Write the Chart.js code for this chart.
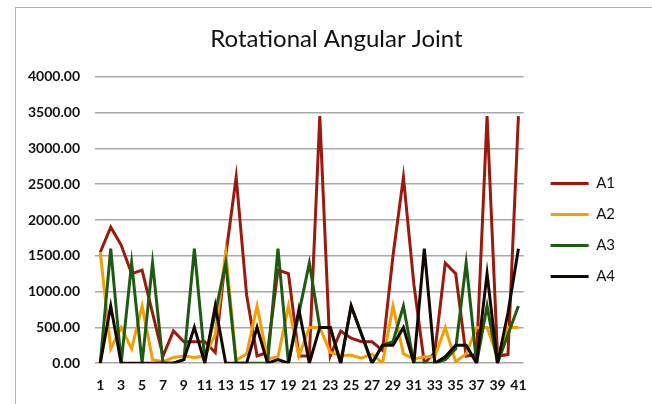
<!DOCTYPE html>
<html><head><meta charset="utf-8">
<script src="https://cdn.jsdelivr.net/npm/chart.js@4/dist/chart.umd.min.js"></script>
<style>
html,body{margin:0;padding:0;background:#fff;overflow:hidden;}
#wrap{position:relative;width:652px;height:404px;overflow:hidden;}
#frame{position:absolute;left:15px;top:7px;width:700px;height:500px;border:1px solid #b4b4b4;box-sizing:border-box;}
canvas{position:absolute;left:0;top:0;}
</style></head><body>
<div id="wrap"><div id="frame"></div><canvas id="c" width="652" height="404"></canvas></div>
<script>
const categories = ['1','2','3','4','5','6','7','8','9','10','11','12','13','14','15','16','17','18','19','20','21','22','23','24','25','26','27','28','29','30','31','32','33','34','35','36','37','38','39','40','41'];
const seriesNames = ['A1','A2','A3','A4'];
const a1 = [1550,1900,1650,1250,1300,700,100,450,300,300,300,150,1500,2600,950,100,150,1300,1250,100,100,3450,100,450,350,300,300,180,1500,2600,1100,0,150,1400,1250,100,120,3450,100,120,3450];
const a2 = [1550,200,500,200,800,50,20,80,100,80,100,400,1550,40,130,800,60,90,800,100,500,500,150,110,110,70,130,0,800,130,60,90,90,500,20,130,500,500,90,500,500];
const a3 = [0,1600,0,1400,0,1400,0,0,50,1600,50,700,1400,0,0,0,0,1600,0,700,1400,500,500,0,800,400,0,250,300,800,0,0,0,50,200,1400,0,800,0,400,800];
const a4 = [0,800,0,0,0,0,0,0,50,500,0,800,0,0,0,500,0,50,0,750,0,500,500,0,800,400,0,250,250,500,0,1600,0,90,250,250,0,1250,0,700,1600];
const yTicks = [0,500,1000,1500,2000,2500,3000,3500,4000];
const colors = ['#9a1a0e','#f2a000','#1f5a12','#140800'];

const shiftBoxes = {
  id: 'shiftBoxes',
  afterLayout(chart) {
    const l = chart.legend;
    if (l) { l.left += 11; l.right += 11; l.top += 26; l.bottom += 26; }
    const t = chart.titleBlock;
    if (t) { t.left += 23; t.right += 23; }
  }
};

const mk = (label, data, i, order) => ({
  label, data, borderColor: colors[i], backgroundColor: colors[i],
  borderWidth: 3, pointRadius: 0, tension: 0, fill: false, order
});

new Chart(document.getElementById('c'), {
  type: 'line',
  data: {
    labels: categories,
    datasets: [mk(seriesNames[0], a1, 0, 3), mk(seriesNames[1], a2, 1, 2), mk(seriesNames[2], a3, 2, 1), mk(seriesNames[3], a4, 3, 0)]
  },
  plugins: [shiftBoxes],
  options: {
    responsive: false, animation: false, devicePixelRatio: 1,
    layout: { padding: { left: 13, right: 38, top: 0, bottom: -4 } },
    plugins: {
      title: { display: true, text: 'Rotational Angular Joint', color: '#111',
        font: { family: 'Lato', size: 24, weight: 'normal' }, padding: { top: 25, bottom: 23 } },
      legend: { display: true, position: 'right',
        labels: { usePointStyle: true, pointStyle: 'line', pointStyleWidth: 38, boxHeight: 15,
          padding: 16, color: '#111', font: { family: 'Lato', size: 15 },
          sort: (a, b) => a.datasetIndex - b.datasetIndex } },
      tooltip: { enabled: false }
    },
    scales: {
      x: {
        offset: true,
        grid: { display: false, drawTicks: false },
        border: { display: false },
        ticks: { autoSkip: false, maxRotation: 0, minRotation: 0, padding: 14, color: '#111',
          font: { family: 'Lato', size: 14, weight: 'bold' },
          callback: (v, i) => (i % 2 === 0 ? categories[i] : '') }
      },
      y: {
        min: 0, max: 4000,
        afterBuildTicks: (ax) => { ax.ticks = yTicks.map(v => ({ value: v })); },
        grid: { color: '#a8a8a8', lineWidth: 1.5, drawTicks: false },
        border: { display: false },
        ticks: { padding: 15, color: '#111', font: { family: 'Lato', size: 14, weight: 'bold' },
          callback: (v) => Number(v).toFixed(2) }
      }
    }
  }
});
</script>
</body></html>
